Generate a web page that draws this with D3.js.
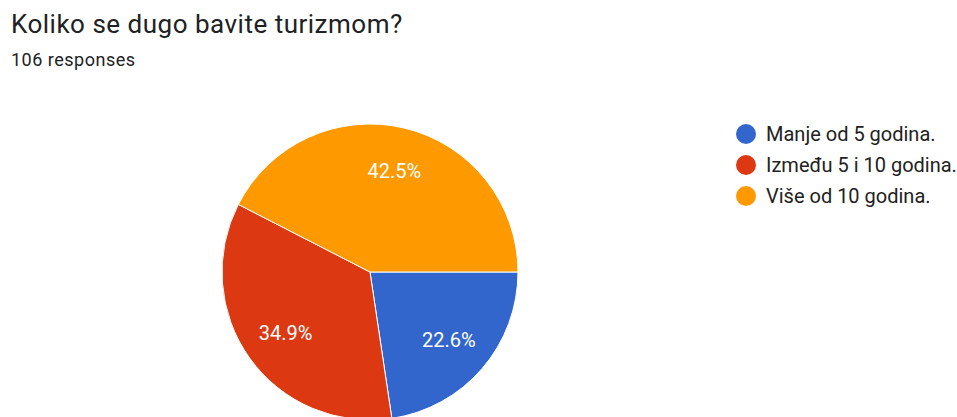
<!DOCTYPE html>
<html>
<head>
<meta charset="utf-8">
<script src="https://cdn.jsdelivr.net/npm/d3@7"></script>
<style>
  body { margin: 0; background: #fff; }
  svg { display: block; font-family: Roboto, Arial, sans-serif; }
</style>
</head>
<body>
<svg id="chart" width="957" height="417"></svg>
<script>
const title = "Koliko se dugo bavite turizmom?";
const subtitle = "106 responses";
const categories = ["Manje od 5 godina.", "Između 5 i 10 godina.", "Više od 10 godina."];
const counts = [24, 37, 45];
const colors = ["#3366cc", "#dc3912", "#ff9900"];

const width = 957, height = 417;
const cx = 370, cy = 272, radius = 148;

const svg = d3.select("#chart");

svg.append("text")
    .attr("x", 11).attr("y", 33)
    .attr("font-size", 26)
    .attr("letter-spacing", 0.5)
    .attr("fill", "#202124")
    .text(title);

svg.append("text")
    .attr("x", 11).attr("y", 66)
    .attr("font-size", 18)
    .attr("letter-spacing", 0.5)
    .attr("fill", "#202124")
    .text(subtitle);

const color = d3.scaleOrdinal().domain(categories).range(colors);
const total = d3.sum(counts);

// slices start at 3 o'clock and run clockwise
const pie = d3.pie()
    .sort(null)
    .value(d => d.value)
    .startAngle(Math.PI / 2)
    .endAngle(Math.PI / 2 + 2 * Math.PI);

const data = categories.map((c, i) => ({ name: c, value: counts[i] }));
const arcs = pie(data);

const arc = d3.arc().innerRadius(0).outerRadius(radius);
const labelArc = d3.arc().innerRadius(104).outerRadius(104);

const g = svg.append("g").attr("transform", `translate(${cx},${cy})`);

g.selectAll("path")
    .data(arcs)
    .join("path")
    .attr("d", arc)
    .attr("fill", d => color(d.data.name))
    .attr("stroke", "#fff")
    .attr("stroke-width", 1);

g.selectAll("text")
    .data(arcs)
    .join("text")
    .attr("transform", d => `translate(${labelArc.centroid(d)})`)
    .attr("text-anchor", "middle")
    .attr("dy", "0.36em")
    .attr("font-size", 20)
    .attr("fill", "#fff")
    .text(d => (d.data.value / total * 100).toFixed(1) + "%");

const legend = svg.append("g").attr("transform", "translate(746,134)");

const row = legend.selectAll("g")
    .data(categories)
    .join("g")
    .attr("transform", (d, i) => `translate(0,${i * 31})`);

row.append("circle")
    .attr("r", 10)
    .attr("fill", d => color(d));

row.append("text")
    .attr("x", 20)
    .attr("dy", "0.36em")
    .attr("font-size", 20)
    .attr("fill", "#222")
    .text(d => d);
</script>
</body>
</html>
